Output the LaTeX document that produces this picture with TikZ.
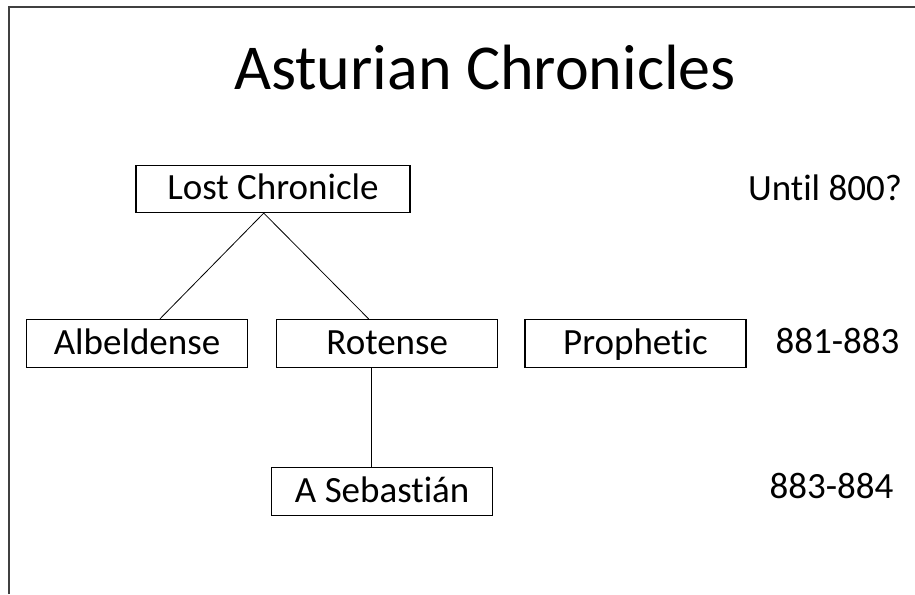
\documentclass[tikz,border=0pt]{standalone}
\usepackage{fontspec}
\setmainfont{Carlito}[Ligatures=CommonOff]
\usetikzlibrary{positioning}

\begin{document}
\begin{tikzpicture}[x=1pt,y=-1pt,line width=0.8pt,node distance=28pt,
    main node/.style={rectangle,draw,line width=1.2pt,minimum width=221pt,minimum height=48pt,inner sep=0pt,text height=28pt,text depth=7pt,font=\fontsize{37}{44}\selectfont},
    date node/.style={anchor=base,font=\fontsize{37}{44}\selectfont}]
        \useasboundingbox (0,0) rectangle (915,594);
        \draw[black!75,line width=2pt] (9,594) -- (9,7) -- (915,7);
        \node[anchor=base,font=\fontsize{64}{70}\selectfont] (title) at (485,89) {Asturian Chronicles};

        \node[main node,minimum width=274pt,minimum height=47pt] (lost) at (273,189) {Lost Chronicle};
        \node[main node] (alb) at (137,343.5)              {Albeldense};
        \node[main node] (rot) [right=of alb]             {Rotense};
        \node[main node] (pro) [right=26pt of rot]        {Prophetic};
        \node[main node] (seb) [below=99pt of rot,xshift=-5pt] {A Sebastián};

        \node[date node] (until) at (825,200)   {Until 800?};
        \node[date node] (ninth) at (837.5,353) {881-883};
        \node[date node] (later) at (831.5,498) {883-884};

          \path
            (lost.249)  edge    (alb.47.5)
                        edge    (rot.127)
            (rot.237.7) edge    (rot.237.7 |- seb.north);
\end{tikzpicture}
\end{document}
